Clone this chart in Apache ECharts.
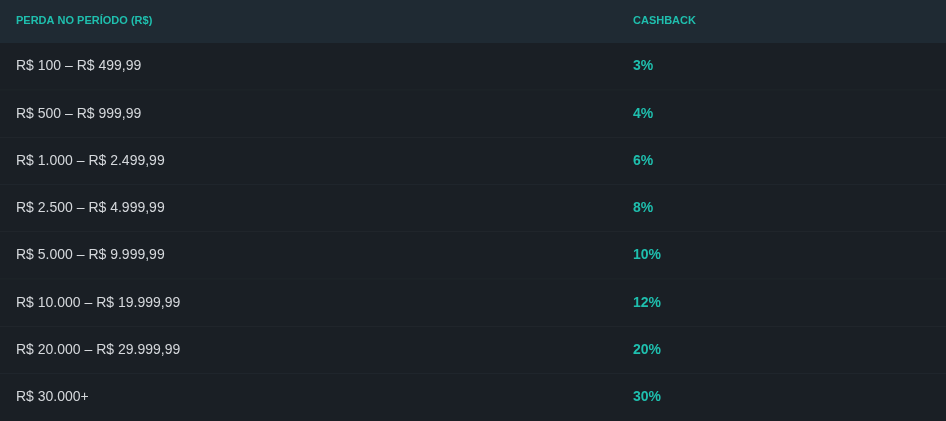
<!DOCTYPE html>
<html><head><meta charset="utf-8">
<script src="https://cdn.jsdelivr.net/npm/echarts@6/dist/echarts.min.js"></script>
<style>html,body{margin:0;background:#1a1f25}#c{width:946px;height:421px}</style>
</head><body><div id="c"></div>
<script>
const headers = ['PERDA NO PERÍODO (R$)', 'CASHBACK'];
const ranges = ['R$ 100 – R$ 499,99', 'R$ 500 – R$ 999,99', 'R$ 1.000 – R$ 2.499,99', 'R$ 2.500 – R$ 4.999,99',
  'R$ 5.000 – R$ 9.999,99', 'R$ 10.000 – R$ 19.999,99', 'R$ 20.000 – R$ 29.999,99', 'R$ 30.000+'];
const cashback = [3, 4, 6, 8, 10, 12, 20, 30];

const chart = echarts.init(document.getElementById('c'));
chart.setOption({
  backgroundColor: '#1a1f25',
  animation: false,
  grid: { left: 0, right: 0, top: 43, bottom: 0 },
  xAxis: { type: 'value', min: 0, max: 946, show: false },
  yAxis: { type: 'category', data: ranges, inverse: true, show: false },
  graphic: [
    { type: 'rect', shape: { x: 0, y: 0, width: 946, height: 43 }, style: { fill: '#1f2a33' } },
    { type: 'text', x: 16, y: 21, style: { text: headers[0], fill: '#1fbfae', font: 'bold 11px "Liberation Sans", Arial', verticalAlign: 'middle' } },
    { type: 'text', x: 633, y: 21, style: { text: headers[1], fill: '#1fbfae', font: 'bold 11px "Liberation Sans", Arial', verticalAlign: 'middle' } }
  ],
  series: [{
    type: 'custom',
    data: ranges.map((r, i) => [i, cashback[i]]),
    renderItem: function (params, api) {
      const i = api.value(0);
      const p = api.coord([0, i]);
      const h = api.size([0, 1])[1];
      const top = p[1] - h / 2;
      const children = [
        { type: 'rect', shape: { x: 0, y: top, width: 946, height: h }, style: { fill: '#1a1f25' } },
        { type: 'text', x: 16, y: p[1], style: { text: ranges[i], fill: '#d5d8dc', font: '14px "Liberation Sans", Arial', verticalAlign: 'middle' } },
        { type: 'text', x: 633, y: p[1], style: { text: api.value(1) + '%', fill: '#1fbfae', font: 'bold 14px "Liberation Sans", Arial', verticalAlign: 'middle' } }
      ];
      if (i < ranges.length - 1) {
        children.push({ type: 'line', shape: { x1: 0, y1: top + h, x2: 946, y2: top + h }, style: { stroke: '#262c33', lineWidth: 1 } });
      }
      return { type: 'group', children: children };
    }
  }]
});
</script></body></html>
